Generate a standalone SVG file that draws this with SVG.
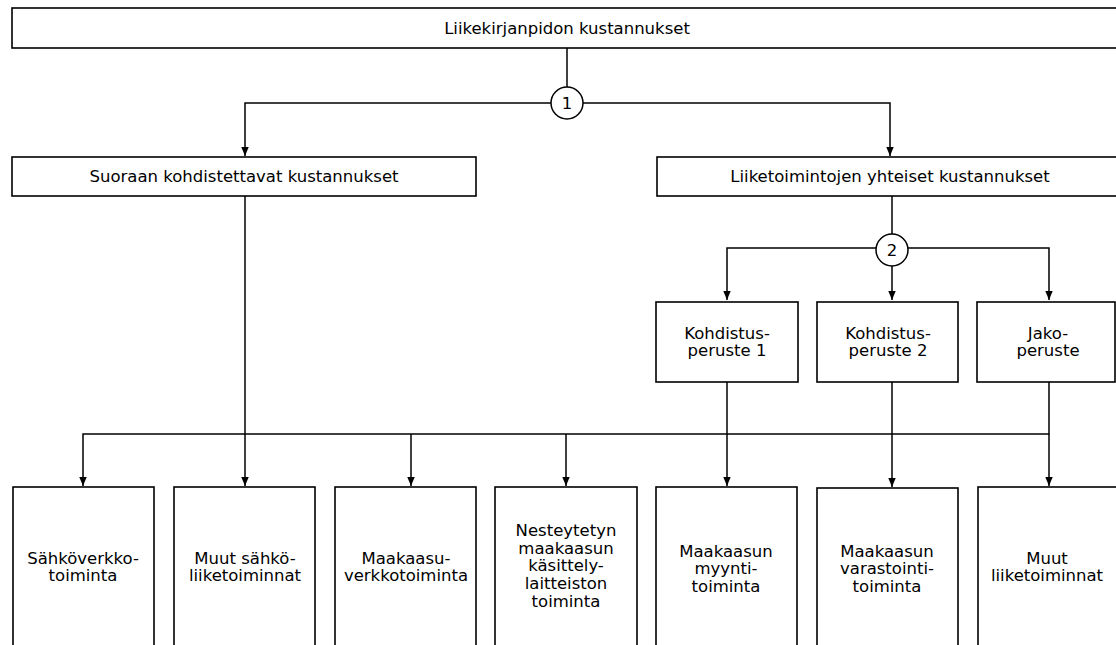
<svg xmlns="http://www.w3.org/2000/svg" width="1116" height="645" viewBox="0 0 1116 645">
<style>
.box{fill:#fff;stroke:#000;stroke-width:1.6}
.ln{fill:none;stroke:#000;stroke-width:1.5}
.circ{fill:#fff;stroke:#000;stroke-width:1.5}
text{font-family:"DejaVu Sans",Verdana,sans-serif;font-size:16.5px;fill:#000;text-anchor:middle}
</style>
<defs>
<marker id="arr" markerUnits="userSpaceOnUse" markerWidth="9" markerHeight="9" viewBox="0 0 9 9" refX="9" refY="4.5" orient="auto">
<path d="M0,0.8 L9,4.5 L0,8.2 Z" fill="#000"/>
</marker>
</defs>
<rect width="1116" height="645" fill="#fff"/>
<g id="connectors">
<line class="ln" x1="567" y1="48" x2="567" y2="87"/>
<polyline class="ln" points="551,103 245,103 245,156" marker-end="url(#arr)"/>
<polyline class="ln" points="583,103 890,103 890,156" marker-end="url(#arr)"/>
<line class="ln" x1="892" y1="196" x2="892" y2="234"/>
<polyline class="ln" points="876,248 727,248 727,300" marker-end="url(#arr)"/>
<line class="ln" x1="892" y1="266" x2="892" y2="300" marker-end="url(#arr)"/>
<polyline class="ln" points="908,248 1049,248 1049,300" marker-end="url(#arr)"/>
<line class="ln" x1="245" y1="196" x2="245" y2="486" marker-end="url(#arr)"/>
<polyline class="ln" points="1049,382 1049,434 83,434 83,486" marker-end="url(#arr)"/>
<line class="ln" x1="1049" y1="434" x2="1049" y2="486" marker-end="url(#arr)"/>
<line class="ln" x1="411" y1="434" x2="411" y2="486" marker-end="url(#arr)"/>
<line class="ln" x1="566" y1="434" x2="566" y2="486" marker-end="url(#arr)"/>
<line class="ln" x1="727" y1="382" x2="727" y2="486" marker-end="url(#arr)"/>
<line class="ln" x1="892" y1="382" x2="892" y2="487" marker-end="url(#arr)"/>
</g>
<g id="n-top"><rect class="box" x="12" y="8" width="1110" height="40"/><text x="567" y="34">Liikekirjanpidon kustannukset</text></g>
<g id="c1"><circle class="circ" cx="567" cy="103" r="16"/><text x="567" y="109">1</text></g>
<g id="n-suoraan"><rect class="box" x="12" y="157" width="464" height="39"/><text x="244" y="182">Suoraan kohdistettavat kustannukset</text></g>
<g id="n-yhteiset"><rect class="box" x="657" y="157" width="465" height="39"/><text x="890" y="182">Liiketoimintojen yhteiset kustannukset</text></g>
<g id="c2"><circle class="circ" cx="892" cy="250" r="16"/><text x="892" y="256">2</text></g>
<g id="n-k1"><rect class="box" x="656" y="302" width="142" height="80"/><text x="727" y="339">Kohdistus-</text><text x="727" y="356">peruste 1</text></g>
<g id="n-k2"><rect class="box" x="817" y="302" width="141" height="80"/><text x="888" y="339">Kohdistus-</text><text x="888" y="356">peruste 2</text></g>
<g id="n-jako"><rect class="box" x="977" y="302" width="138" height="80"/><text x="1048" y="339">Jako-</text><text x="1048" y="356">peruste</text></g>
<g id="n-b1"><rect class="box" x="13" y="487" width="141" height="170"/><text x="83" y="564">Sähköverkko-</text><text x="83" y="581">toiminta</text></g>
<g id="n-b2"><rect class="box" x="174" y="487" width="141" height="170"/><text x="245" y="564">Muut sähkö-</text><text x="245" y="581">liiketoiminnat</text></g>
<g id="n-b3"><rect class="box" x="335" y="487" width="141" height="170"/><text x="406" y="564">Maakaasu-</text><text x="406" y="581">verkkotoiminta</text></g>
<g id="n-b4"><rect class="box" x="495" y="487" width="142" height="170"/><text x="566" y="536">Nesteytetyn</text><text x="566" y="554">maakaasun</text><text x="566" y="571">käsittely-</text><text x="566" y="589">laitteiston</text><text x="566" y="607">toiminta</text></g>
<g id="n-b5"><rect class="box" x="656" y="487" width="141" height="170"/><text x="726" y="557">Maakaasun</text><text x="726" y="574">myynti-</text><text x="726" y="592">toiminta</text></g>
<g id="n-b6"><rect class="box" x="817" y="488" width="141" height="170"/><text x="887" y="557">Maakaasun</text><text x="887" y="574">varastointi-</text><text x="887" y="592">toiminta</text></g>
<g id="n-b7"><rect class="box" x="978" y="487" width="140" height="170"/><text x="1047" y="564">Muut</text><text x="1047" y="581">liiketoiminnat</text></g>
</svg>
